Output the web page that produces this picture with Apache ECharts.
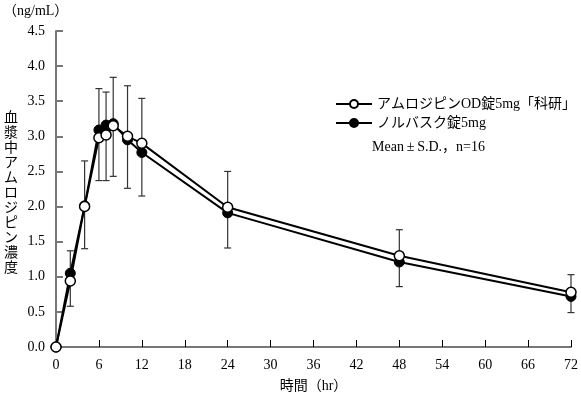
<!DOCTYPE html>
<html>
<head>
<meta charset="utf-8">
<script src="https://cdn.jsdelivr.net/npm/echarts@6/dist/echarts.min.js"></script>
<style>
html,body{margin:0;padding:0;background:#fff;}
#chart{width:581px;height:398px;}
</style>
</head>
<body>
<div id="chart"></div>
<script>
//数据
var hours=[0,2,4,6,7,8,10,12,24,48,72];
var odMean=[0,0.94,2.00,2.98,3.02,3.15,3.00,2.90,1.99,1.30,0.78];
var norvascMean=[0,1.05,2.01,3.09,3.16,3.18,2.95,2.77,1.91,1.21,0.72];
var errLow=[0,0.58,1.40,2.37,2.37,2.43,2.26,2.15,1.41,0.86,0.49];
var errHigh=[0,1.37,2.65,3.68,3.63,3.84,3.72,3.54,2.50,1.67,1.03];
var xTicks=[0,6,12,18,24,30,36,42,48,54,60,66,72];
var odName='アムロジピンOD錠5mg「科研」';
var norvascName='ノルバスク錠5mg';
var fontFam="'Liberation Serif','Noto Sans CJK JP',serif";

function pairs(ys){
	return hours.map(function(h,i){return [h,ys[i]];});
}
var errData=hours.map(function(h,i){return [h,errLow[i],errHigh[i]];});

var chart=echarts.init(document.getElementById('chart'));
var option={
	animation:false,
	textStyle:{fontFamily:fontFam,color:'#000'},
	grid:{left:56,right:8,top:31,bottom:48,containLabel:false},
	legend:{
		left:330,top:92,orient:'vertical',itemGap:5,
		itemWidth:36,itemHeight:10,
		textStyle:{fontFamily:fontFam,fontSize:14,color:'#000'},
		data:[odName,norvascName]
	},
	graphic:[
		{type:'text',left:3,top:4,style:{text:'（ng/mL）',font:"14px "+fontFam,fill:'#000'}},
		{type:'text',left:4,top:111,style:{
			text:'血漿中アムロジピン濃度'.split('').join('\n'),
			font:"14px "+fontFam,lineHeight:15,fill:'#000'}},
		{type:'text',left:372,top:140,style:{text:'Mean\u2009±\u2009S.D.，n=16',font:"14px "+fontFam,fill:'#000'}}
	],
	xAxis:{
		type:'value',min:0,max:72,interval:6,
		name:'時間（hr）',nameLocation:'middle',nameGap:32,
		nameTextStyle:{fontFamily:fontFam,fontSize:14,color:'#000'},
		axisLine:{lineStyle:{color:'#777',width:2}},
		axisTick:{inside:true,length:7,lineStyle:{color:'#000',width:1}},
		axisLabel:{fontFamily:fontFam,fontSize:14,color:'#000',margin:11,
			formatter:function(v){return xTicks.indexOf(v)>=0?String(v):'';}},
		splitLine:{show:false}
	},
	yAxis:{
		type:'value',min:0,max:4.5,interval:0.5,
		axisLine:{show:true,lineStyle:{color:'#777',width:2}},
		axisTick:{show:true,inside:true,length:7,lineStyle:{color:'#777',width:2}},
		axisLabel:{fontFamily:fontFam,fontSize:14,color:'#000',margin:11,
			formatter:function(v){return v.toFixed(1);}},
		splitLine:{show:false}
	},
	series:[
		{
			name:'err',type:'custom',z:1,silent:true,
			renderItem:function(params,api){
				var x=api.value(0);
				var lo=api.coord([x,api.value(1)]);
				var hi=api.coord([x,api.value(2)]);
				var c=3.5;
				var st={stroke:'#333',lineWidth:1.2};
				return {type:'group',children:[
					{type:'line',shape:{x1:lo[0],y1:lo[1],x2:hi[0],y2:hi[1]},style:st},
					{type:'line',shape:{x1:lo[0]-c,y1:lo[1],x2:lo[0]+c,y2:lo[1]},style:st},
					{type:'line',shape:{x1:hi[0]-c,y1:hi[1],x2:hi[0]+c,y2:hi[1]},style:st}
				]};
			},
			data:errData.slice(1)
		},
		{
			name:norvascName,type:'line',z:3,
			symbol:'circle',symbolSize:10,
			lineStyle:{color:'#000',width:2},
			itemStyle:{color:'#000',borderColor:'#000',borderWidth:1},
			data:pairs(norvascMean)
		},
		{
			name:odName,type:'line',z:4,
			symbol:'circle',symbolSize:10,
			lineStyle:{color:'#000',width:2},
			itemStyle:{color:'#fff',borderColor:'#000',borderWidth:1.5},
			data:pairs(odMean)
		}
	]
};
chart.setOption(option);
</script>
</body>
</html>
